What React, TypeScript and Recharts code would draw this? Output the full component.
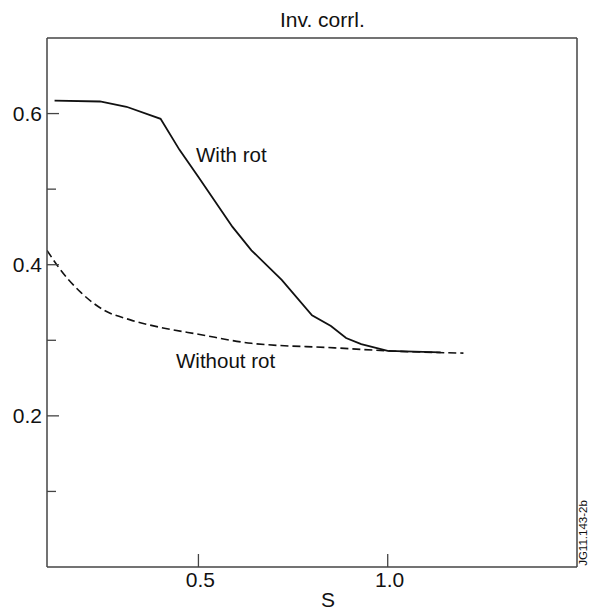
import { LineChart, Line, XAxis, YAxis, ReferenceLine } from "recharts";

const FONT = "'Liberation Sans', Arial, Helvetica, sans-serif";
const INK = "#111";
const FRAME = "#444";

// S values and inverse correlation
const withRotS = [0.12, 0.24, 0.31, 0.4, 0.45, 0.5, 0.59, 0.64, 0.72, 0.8, 0.85, 0.89, 0.93, 1.0, 1.14];
const withRotV = [0.617, 0.616, 0.609, 0.593, 0.552, 0.516, 0.45, 0.419, 0.38, 0.333, 0.319, 0.303, 0.295, 0.286, 0.284];

const withoutRotS = [0.1, 0.13, 0.19, 0.25, 0.32, 0.41, 0.5, 0.64, 0.86, 1.0, 1.2];
const withoutRotV = [0.419, 0.397, 0.363, 0.34, 0.327, 0.316, 0.308, 0.296, 0.29, 0.286, 0.283];

const xTicks = [0.5, 1.0];
const yTicks = [0.1, 0.2, 0.3, 0.4, 0.5, 0.6];
const yLabelled = [0.2, 0.4, 0.6];

const withRot = withRotS.map((s, i) => ({ s, v: withRotV[i] }));
const withoutRot = withoutRotS.map((s, i) => ({ s, v: withoutRotV[i] }));

const YTick = ({ x, y, payload }: any) => {
  const major = yLabelled.some((t) => Math.abs(t - payload.value) < 1e-6);
  return (
    <g>
      <line x1={x} x2={x + (major ? 12 : 9)} y1={y} y2={y} stroke={FRAME} strokeWidth={1.3} />
      {major && (
        <text x={x - 5} y={y + 7} textAnchor="end" fontSize={21} fill={INK} fontFamily={FONT}>
          {payload.value.toFixed(1)}
        </text>
      )}
    </g>
  );
};

const XTick = ({ x, y, payload }: any) => (
  <g>
    <line x1={x} x2={x} y1={y} y2={y - 13} stroke={FRAME} strokeWidth={1.3} />
    <text x={x + 2} y={y + 20} textAnchor="middle" fontSize={21} fill={INK} fontFamily={FONT}>
      {payload.value.toFixed(1)}
    </text>
  </g>
);

export default function App() {
  return (
    <div style={{ position: "absolute", left: 0, top: 0, width: 593, height: 610, background: "#fff" }}>
      <LineChart width={593} height={610} margin={{ top: 38, right: 16, bottom: 0, left: 0 }}>
        <XAxis
          type="number"
          dataKey="s"
          domain={[0.1, 1.5]}
          allowDataOverflow
          ticks={xTicks}
          tick={<XTick />}
          tickLine={false}
          tickSize={0}
          tickMargin={0}
          height={43}
          axisLine={{ stroke: FRAME, strokeWidth: 1.5 }}
        />
        <YAxis
          type="number"
          domain={[0, 0.7]}
          allowDataOverflow
          ticks={yTicks}
          tick={<YTick />}
          tickLine={false}
          tickSize={0}
          tickMargin={0}
          width={47}
          axisLine={{ stroke: FRAME, strokeWidth: 1.5 }}
        />
        <ReferenceLine y={0.7} stroke={FRAME} strokeWidth={1.5} />
        <ReferenceLine x={1.5} stroke={FRAME} strokeWidth={1.5} />
        <Line
          data={withRot}
          dataKey="v"
          type="linear"
          stroke={INK}
          strokeWidth={1.8}
          dot={false}
          isAnimationActive={false}
        />
        <Line
          data={withoutRot}
          dataKey="v"
          type="monotone"
          stroke={INK}
          strokeWidth={1.6}
          strokeDasharray="8 4"
          dot={false}
          isAnimationActive={false}
        />
      </LineChart>

      <svg
        width={593}
        height={610}
        style={{ position: "absolute", left: 0, top: 0, pointerEvents: "none" }}
        fontFamily={FONT}
        fill={INK}
      >
        <text x={280} y={27} fontSize={21}>Inv. corrl.</text>
        <text x={196} y={162} fontSize={20.5}>With rot</text>
        <text x={176} y={368} fontSize={20.5}>Without rot</text>
        <text x={321} y={607} fontSize={21}>S</text>
        <text x={587} y={533} fontSize={11.5} textAnchor="middle" transform="rotate(-90 587 533)">
          JG11.143-2b
        </text>
      </svg>
    </div>
  );
}
